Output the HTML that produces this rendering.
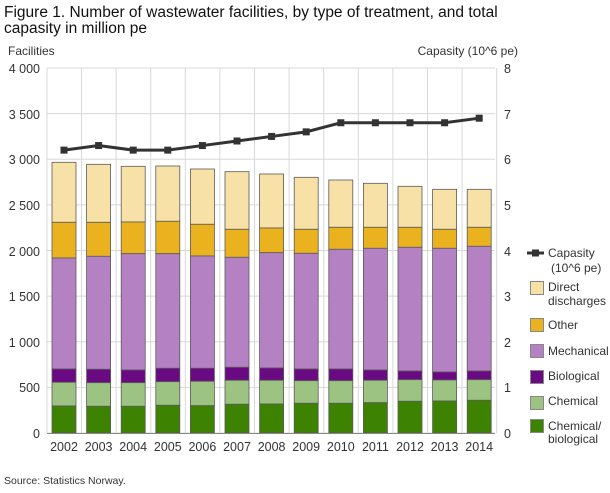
<!DOCTYPE html>
<html><head><meta charset="utf-8"><style>
body{margin:0;background:#fff;}
svg text{font-family:"Liberation Sans",sans-serif;}
</style></head><body>
<svg id="s" width="610" height="488" xmlns="http://www.w3.org/2000/svg">
<text x="4" y="17" font-size="15.5" fill="#111">Figure 1. Number of wastewater facilities, by type of treatment, and total</text>
<text x="4" y="33" font-size="15.5" fill="#111">capasity in million pe</text>
<text x="8" y="55" font-size="12" fill="#333">Facilities</text>
<text x="518" y="55" font-size="12" fill="#333" text-anchor="end">Capasity (10^6 pe)</text>
<g id="grid" stroke="#d8d8d8" stroke-width="1"></g>
<g font-size="12.5" fill="#333" text-anchor="end">
<text x="40" y="73">4 000</text><text x="40" y="119">3 500</text><text x="40" y="164">3 000</text><text x="40" y="210">2 500</text><text x="40" y="256">2 000</text><text x="40" y="301">1 500</text><text x="40" y="347">1 000</text><text x="40" y="392">500</text><text x="40" y="438">0</text>
</g>
<g font-size="12.5" fill="#333">
<text x="504" y="73">8</text><text x="504" y="119">7</text><text x="504" y="164">6</text><text x="504" y="210">5</text><text x="504" y="256">4</text><text x="504" y="301">3</text><text x="504" y="347">2</text><text x="504" y="392">1</text><text x="504" y="438">0</text>
</g>
<g font-size="12.5" fill="#333" text-anchor="middle">
<text x="64" y="451">2002</text><text x="98.6" y="451">2003</text><text x="133.2" y="451">2004</text><text x="167.8" y="451">2005</text><text x="202.4" y="451">2006</text><text x="237" y="451">2007</text><text x="271.6" y="451">2008</text><text x="306.2" y="451">2009</text><text x="340.8" y="451">2010</text><text x="375.4" y="451">2011</text><text x="410" y="451">2012</text><text x="444.6" y="451">2013</text><text x="479.2" y="451">2014</text>
</g>
<g id="bars"></g>
<g id="line"></g>
<line x1="47" y1="433.5" x2="495" y2="433.5" stroke="#888"/>
<g font-size="12" fill="#333">
<line x1="527" y1="253" x2="544" y2="253" stroke="#333" stroke-width="3"/><rect x="532" y="249.5" width="7" height="7" fill="#333"/>
<text x="548" y="257">Capasity</text><text x="551" y="272">(10^6 pe)</text>
<rect x="530.5" y="281.5" width="13" height="13" fill="#f7e1a6" stroke="#888"/><text x="548" y="291">Direct</text><text x="548" y="305">discharges</text>
<rect x="530.5" y="318.5" width="13" height="13" fill="#ebb220" stroke="#888"/><text x="548" y="329">Other</text>
<rect x="530.5" y="344.5" width="13" height="13" fill="#b482c2" stroke="#888"/><text x="548" y="355">Mechanical</text>
<rect x="530.5" y="370.5" width="13" height="13" fill="#6a0a83" stroke="#888"/><text x="548" y="380">Biological</text>
<rect x="530.5" y="396.5" width="13" height="13" fill="#9dc383" stroke="#888"/><text x="548" y="405">Chemical</text>
<rect x="530.5" y="419.5" width="13" height="13" fill="#3d8200" stroke="#888"/><text x="548" y="430">Chemical/</text><text x="548" y="443">biological</text>
</g>
<text x="4" y="484" font-size="10.5" fill="#333">Source: Statistics Norway.</text>
<script>
var NS="http://www.w3.org/2000/svg";
function el(p,t,a){var e=document.createElementNS(NS,t);for(var k in a)e.setAttribute(k,a[k]);p.appendChild(e);return e;}
var g=document.getElementById('grid');
for(var i=0;i<9;i++){var y=68+i*45.625;el(g,'line',{x1:47,x2:495,y1:y,y2:y});}
el(g,'line',{x1:47,x2:47,y1:68,y2:433});
for(var i=0;i<13;i++){var x=81.5+34.6*i;el(g,'line',{x1:x,x2:x,y1:68,y2:433});}
var tops=[
[162.3,164.3,166.3,166,169,171.7,174,177.3,180,183.3,186.3,189.3,189.3],
[222.3,222.3,222,221.3,224.3,229.3,228,229.3,227.3,227.3,227.3,229.3,227.3],
[258,256.3,253.7,253.7,256,257.3,252.7,253.3,249.3,248.3,247.3,248.3,246.3],
[369,369.3,370,368.3,368.3,367.3,368,369,369,370,371,372,371],
[382.3,382.7,382.7,381.7,381.3,380.3,380.3,380.7,380.7,380.3,379.7,380,379.7],
[406,406.3,406.3,405.3,405.7,404.3,404,403.3,403.3,402.7,401.3,401,400.3]];
var cols=['#f7e1a6','#ebb220','#b482c2','#6a0a83','#9dc383','#3d8200'];
var b=document.getElementById('bars');
for(var i=0;i<13;i++){var x=52+34.6*i;
for(var s=0;s<6;s++){var t=tops[s][i],bt=s<5?tops[s+1][i]:433;
el(b,'rect',{x:x,y:t,width:24,height:bt-t,fill:cols[s],stroke:'#5a5a5a','stroke-width':0.8});}}
var cap=[6.2,6.3,6.2,6.2,6.3,6.4,6.5,6.6,6.8,6.8,6.8,6.8,6.9];
var l=document.getElementById('line'),pts=[];
for(var i=0;i<13;i++){pts.push((64+34.6*i)+','+(433-cap[i]*45.625));}
el(l,'polyline',{points:pts.join(' '),fill:'none',stroke:'#333','stroke-width':3});
for(var i=0;i<13;i++){el(l,'rect',{x:64+34.6*i-3.5,y:433-cap[i]*45.625-3.5,width:7,height:7,fill:'#333'});}
</script>
</svg>
</body></html>
